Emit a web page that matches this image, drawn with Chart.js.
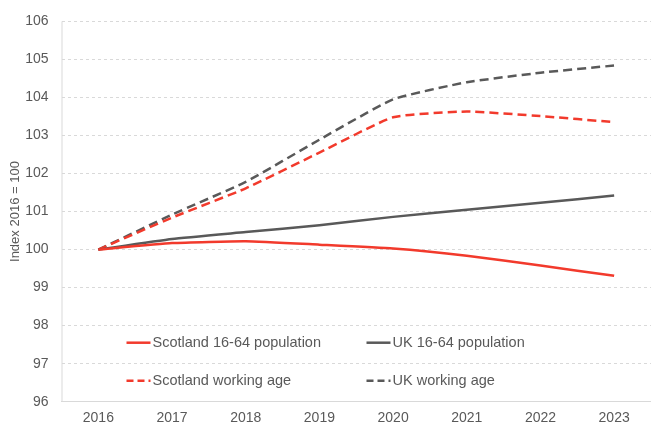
<!DOCTYPE html>
<html>
<head>
<meta charset="utf-8">
<script src="https://cdn.jsdelivr.net/npm/chart.js@4"></script>
<style>
  html, body { margin: 0; padding: 0; background: #fff; }
  #wrap { width: 651px; height: 426px; position: relative; }
</style>
</head>
<body>
<div id="wrap"><canvas id="chart"></canvas></div>
<script>
// working-age population indices, 2016 = 100
var YEARS = ['2016', '2017', '2018', '2019', '2020', '2021', '2022', '2023'];
var SCOT_1664 = [100, 100.17, 100.22, 100.13, 100.03, 99.84, 99.58, 99.31];
var UK_1664 = [100, 100.28, 100.46, 100.64, 100.86, 101.05, 101.23, 101.42];
var SCOT_WA = [100, 100.84, 101.61, 102.55, 103.48, 103.63, 103.51, 103.35];
var UK_WA = [100, 100.92, 101.78, 102.89, 103.95, 104.40, 104.65, 104.84];
var Y_TICKS = [96, 97, 98, 99, 100, 101, 102, 103, 104, 105, 106];

var RED = '#f23a2c';
var GREY = '#595959';
var TEXT = '#595959';
var GRID = '#d9d9d9';
var FONT = '"Liberation Sans", Arial, sans-serif';
var DASH = [9, 5];

function series(label, data, color, dashed) {
  return {
    label: label,
    data: data,
    borderColor: color,
    backgroundColor: color,
    borderWidth: 2.5,
    borderDash: dashed ? DASH : [],
    pointRadius: 0,
    tension: 0.15,
    fill: false
  };
}

// legend sits inside the plot, two columns x two rows
var insideLegend = {
  id: 'insideLegend',
  afterDatasetsDraw: function (chart) {
    var ctx = chart.ctx;
    var area = chart.chartArea;
    var cols = [area.left + 65, area.left + 305];
    var rows = [area.bottom - 59, area.bottom - 21];
    ctx.save();
    ctx.font = '14.5px ' + FONT;
    ctx.textBaseline = 'middle';
    ctx.fillStyle = TEXT;
    chart.data.datasets.forEach(function (ds, i) {
      var x = cols[i % 2];
      var y = rows[Math.floor(i / 2)];
      ctx.beginPath();
      ctx.strokeStyle = ds.borderColor;
      ctx.lineWidth = 2.5;
      ctx.setLineDash(ds.borderDash.length ? [7, 4] : []);
      ctx.moveTo(x, y);
      ctx.lineTo(x + 24, y);
      ctx.stroke();
      ctx.setLineDash([]);
      ctx.fillText(ds.label, x + 26, y);
    });
    ctx.restore();
  }
};

// solid left axis line (grid lines themselves are dashed)
var solidAxis = {
  id: 'solidAxis',
  afterDraw: function (chart) {
    var ctx = chart.ctx;
    var area = chart.chartArea;
    ctx.save();
    ctx.strokeStyle = GRID;
    ctx.lineWidth = 1;
    ctx.beginPath();
    ctx.moveTo(area.left + 0.5, area.top);
    ctx.lineTo(area.left + 0.5, area.bottom);
    ctx.stroke();
    ctx.restore();
  }
};

new Chart(document.getElementById('chart'), {
  type: 'line',
  data: {
    labels: YEARS,
    datasets: [
      series('Scotland 16-64 population', SCOT_1664, RED, false),
      series('UK 16-64 population', UK_1664, GREY, false),
      series('Scotland working age', SCOT_WA, RED, true),
      series('UK working age', UK_WA, GREY, true)
    ]
  },
  options: {
    animation: false,
    responsive: true,
    maintainAspectRatio: false,
    layout: { padding: { top: 18, right: 0, bottom: 0, left: 0 } },
    scales: {
      x: {
        offset: true,
        grid: { display: false, drawTicks: false },
        border: { display: true, color: GRID, width: 1 },
        ticks: { color: TEXT, font: { family: FONT, size: 14 }, padding: 8, maxRotation: 0 },
        afterFit: function (scale) { scale.height = 24.3; }
      },
      y: {
        min: 96,
        max: 106,
        afterBuildTicks: function (scale) {
          scale.ticks = Y_TICKS.map(function (v) { return { value: v }; });
        },
        grid: { color: GRID, lineWidth: 1, drawTicks: false },
        border: { display: false, dash: [3, 3] },
        ticks: { color: TEXT, font: { family: FONT, size: 14 }, padding: 13 },
        title: {
          display: true,
          text: 'Index 2016 = 100',
          color: TEXT,
          font: { family: FONT, size: 13 },
          padding: { top: 8, bottom: 0 }
        },
        afterFit: function (scale) { scale.width = 61.5; }
      }
    },
    plugins: {
      legend: { display: false },
      tooltip: { enabled: false }
    }
  },
  plugins: [insideLegend, solidAxis]
});
</script>
</body>
</html>
